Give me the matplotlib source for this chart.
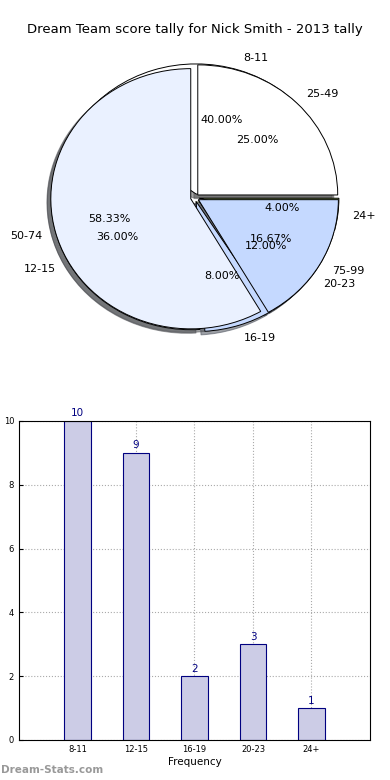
import matplotlib
matplotlib.use('Agg')
import matplotlib.pyplot as plt

# score bands and counts
bands = ['8-11', '12-15', '16-19', '20-23', '24+']
counts = [10, 9, 2, 3, 1]

# second set of bands shown in the same pie
bands2 = ['25-49', '50-74', '75-99']
counts2 = [3, 7, 2]

title = 'Dream Team score tally for Nick Smith - 2013 tally'

colors1 = ['white', '#eaf1ff', '#c5d9ff', '#dfe8f5', '#9bbb59']
colors2 = ['white', '#eaf1ff', '#c5d9ff']

fig = plt.figure(figsize=(3.9, 7.8), dpi=100)

# pie chart
ax1 = fig.add_axes([0.051, 0.538, 0.897, 0.417])
wp = {'edgecolor': 'black', 'linewidth': 0.7}
ax1.pie(counts, labels=bands, colors=colors1, autopct='%1.2f%%',
        startangle=0, explode=[0.03] * len(counts), shadow=True,
        wedgeprops=wp, textprops={'fontsize': 8})
ax1.pie(counts2, labels=bands2, colors=colors2, autopct='%1.2f%%',
        startangle=0, explode=[0.03] * len(counts2), shadow=True,
        wedgeprops=wp, textprops={'fontsize': 8})
ax1.set_aspect('auto')
ax1.set_xlim(-1.25, 1.25)
ax1.set_ylim(-1.25, 1.25)
fig.text(0.5, 1 - 30 / 780, title, ha='center', va='center', fontsize=9.5)

# bar chart
ax2 = fig.add_axes([0.0487, 0.0513, 0.9, 0.409])
x = list(range(1, len(bands) + 1))
ax2.bar(x, counts, width=0.45, color='#ccccE6', edgecolor='navy', linewidth=0.8, zorder=2)
for xi, c in zip(x, counts):
    ax2.text(xi, c + 0.08, str(c), ha='center', va='bottom', color='navy', fontsize=7.5)
ax2.set_xlim(0, 6)
ax2.set_ylim(0, 10)
ax2.set_xticks(x)
ax2.set_xticklabels(bands)
ax2.set_yticks([0, 2, 4, 6, 8, 10])
ax2.tick_params(labelsize=6, direction='in', length=3)
ax2.grid(True, linestyle=':', color='#aaaaaa', linewidth=0.8, zorder=0)
ax2.set_axisbelow(True)
ax2.set_xlabel('Frequency', fontsize=7.5, labelpad=2)
ax2.set_ylabel('Dream Team Tally', fontsize=7.5)
ax2.yaxis.set_label_coords(-0.06, 0.5)

fig.text(0.002, 1 - 770 / 780, 'Dream-Stats.com', ha='left', va='center',
         fontsize=7.5, color='#999999', fontweight='bold')

fig.savefig('out.png', dpi=100)
